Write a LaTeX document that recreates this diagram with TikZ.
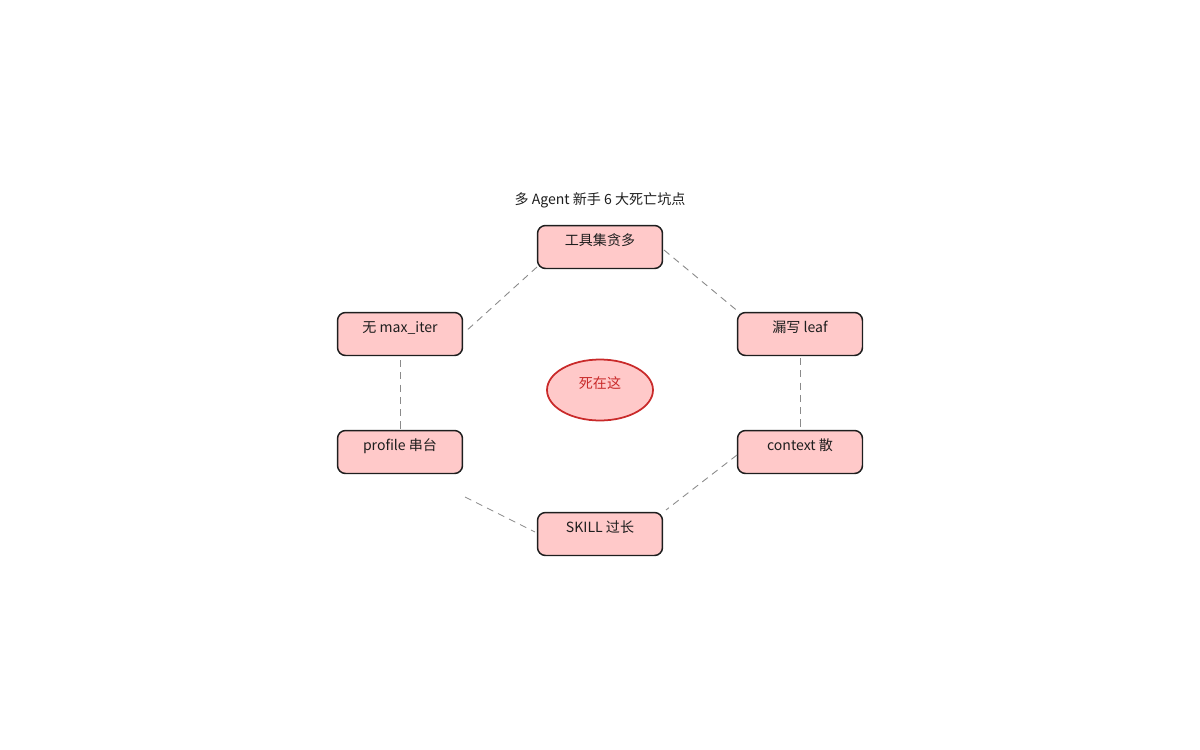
\documentclass[tikz,border=0pt]{standalone}
\usepackage{fontspec}
\setmainfont{Noto Sans CJK SC}
\usetikzlibrary{shapes.geometric}
\definecolor{boxfill}{HTML}{FFC9C9}
\definecolor{boxline}{HTML}{1E1E1E}
\definecolor{redline}{HTML}{C92A2A}
\definecolor{connline}{HTML}{8A8A8A}
\newcommand{\liftt}[1]{\smash{\raisebox{0.6pt}{#1}}}
\begin{document}
\begin{tikzpicture}[x=0.02cm,y=-0.02cm,
  pit/.style={draw=boxline,fill=boxfill,line width=0.85pt,rounded corners=0.16cm,
    minimum width=2.5cm,minimum height=0.86cm,inner sep=0pt,font=\fontsize{8}{10}\selectfont,text=boxline},
  core/.style={ellipse,draw=redline,fill=boxfill,line width=1pt,minimum width=2.12cm,
    minimum height=1.22cm,inner sep=0pt,font=\fontsize{8}{10}\selectfont,text=redline},
  conn/.style={draw=connline,line width=0.5pt,dash pattern=on 4pt off 3pt}]
\useasboundingbox (0,0) rectangle (1200,750);
\node[font=\fontsize{8}{10}\selectfont,text=boxline] (title) at (600,200) {多 Agent 新手 6 大死亡坑点};
\node[pit] (tool) at (600,247) {\liftt{工具集贪多}};
\node[pit] (iter) at (400,334) {\liftt{无 max\_iter}};
\node[pit] (leaf) at (800,334) {\liftt{漏写 leaf}};
\node[pit] (prof) at (400,452) {\liftt{profile 串台}};
\node[pit] (ctx) at (800,452) {\liftt{context 散}};
\node[pit] (skill) at (600,534) {\liftt{SKILL 过长}};
\node[core] (die) at (600,390) {\liftt{死在这}};
\coordinate (a1) at (537,267); \coordinate (a2) at (465,332);
\coordinate (b1) at (664,250); \coordinate (b2) at (740,313);
\coordinate (c1) at (400,360); \coordinate (c2) at (400,430);
\coordinate (d1) at (800,358); \coordinate (d2) at (800,428);
\coordinate (e1) at (465,497); \coordinate (e2) at (535,532);
\coordinate (f1) at (737,455); \coordinate (f2) at (666,510);
\draw[conn] (a1) -- (a2);
\draw[conn] (b1) -- (b2);
\draw[conn] (c1) -- (c2);
\draw[conn] (d1) -- (d2);
\draw[conn] (e1) -- (e2);
\draw[conn] (f1) -- (f2);
\end{tikzpicture}
\end{document}
